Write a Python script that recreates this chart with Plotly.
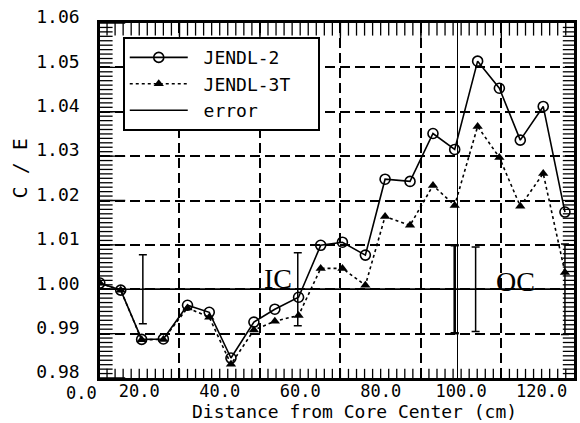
import plotly.graph_objects as go

# Measurement positions: distance from core center (cm)
distance = [10.2, 15.4, 20.6, 26.0, 32.0, 37.4, 42.8, 48.5, 53.7, 59.6, 65.1,
            70.5, 76.2, 81.1, 87.3, 93.0, 98.4, 104.1, 109.5, 114.7, 120.4, 125.8]

# C/E ratios for the two nuclear data libraries
ce_jendl2 = [1.0014, 0.9998, 0.9887, 0.9888, 0.9964, 0.9948, 0.9845, 0.9926, 0.9955, 0.9982, 1.0099,
             1.0106, 1.0077, 1.0248, 1.0243, 1.0351, 1.0315, 1.0514, 1.0453, 1.0336, 1.0412, 1.0174]
ce_jendl3t = [1.0014, 0.9998, 0.9886, 0.9887, 0.9958, 0.9937, 0.9831, 0.9908, 0.9928, 0.9941, 1.0047,
              1.0047, 1.0009, 1.0164, 1.0144, 1.0234, 1.0189, 1.0367, 1.0297, 1.0187, 1.0261, 1.0038]

# Experimental error bands around C/E = 1
err_x = [20.9, 59.4, 98.4, 103.6, 125.8]
err_val = [0.0078, 0.0082, 0.0099, 0.0095, 0.0102]
err_center = [1.0, 1.0, 1.0, 1.0, 1.0]

# Axis ranges, ticks and reference lines
x_range = [10.25, 128.05]
y_range = [0.98, 1.06]
x_ticks = [20, 40, 60, 80, 100, 120]
x_ticktext = ["20.0", "40.0", "60.0", "80.0", "100.0", "120.0"]
x_fine = list(range(12, 128, 2))                      # small tick every 2 cm
x_grid = [30, 50, 70, 90, 110]
y_ticks = [0.98, 0.99, 1.00, 1.01, 1.02, 1.03, 1.04, 1.05, 1.06]
y_ticktext = ["0.98", "0.99", "1.00", "1.01", "1.02", "1.03", "1.04", "1.05", "1.06"]
y_fine = [v / 1000 for v in range(981, 1060)]          # small tick every 0.001
bottom_tick_level = 0.9808                             # centre of the bottom frame ticks
core_boundary = 99.1
region_labels = [("IC", 54.6, 1.0025), ("OC", 113.6, 1.0017)]

MONO = "DejaVu Sans Mono"
DASH = "10px,5px"
NB = "\u00a0"

fig = go.Figure()

fig.add_trace(go.Scatter(
    x=distance, y=ce_jendl2, name=NB + "JENDL-2" + NB * 3, mode="lines+markers",
    line=dict(color="black", width=1.6),
    marker=dict(symbol="circle-open", size=10, color="black", line=dict(width=1.6)),
))
fig.add_trace(go.Scatter(
    x=distance, y=ce_jendl3t, name=NB + "JENDL-3T" + NB * 2, mode="lines+markers",
    line=dict(color="black", width=1.6, dash="dot"),
    marker=dict(symbol="triangle-up", size=9, color="black"),
))
fig.add_trace(go.Scatter(
    x=err_x, y=err_center, name=NB + "error", mode="lines",
    line=dict(color="black", width=1.5),
    error_y=dict(type="data", array=err_val, symmetric=True, color="black", thickness=1.5, width=4),
))
# the error bar at the core boundary is drawn heavier
fig.add_trace(go.Scatter(
    x=[err_x[2]], y=[err_center[2]], mode="markers", showlegend=False, hoverinfo="skip",
    marker=dict(size=1, color="rgba(0,0,0,0)"),
    error_y=dict(type="data", array=[err_val[2]], symmetric=True, color="black", thickness=2.5, width=4),
))

# fine tick marks on the frame (the half outside the plot area is clipped)
def frame_ticks(xs, ys, symbol, size):
    fig.add_trace(go.Scatter(
        x=xs, y=ys, mode="markers", showlegend=False, hoverinfo="skip", cliponaxis=True,
        marker=dict(symbol=symbol, size=size, color="black", line=dict(color="black", width=1.3)),
    ))

frame_ticks(x_fine, [bottom_tick_level] * len(x_fine), "line-ns-open", 8)
frame_ticks(x_fine, [y_range[1]] * len(x_fine), "line-ns-open", 18)
frame_ticks(x_grid, [y_range[1]] * len(x_grid), "line-ns-open", 22)
frame_ticks([x_range[0]] * len(y_fine), y_fine, "line-ew-open", 18)
frame_ticks([x_range[1]] * len(y_fine), y_fine, "line-ew-open", 16)
frame_ticks([x_range[0]] * len(y_ticks), y_ticks, "line-ew-open", 36)

fig.add_shape(type="line", xref="paper", x0=0, x1=1, yref="y", y0=1.0, y1=1.0,
              line=dict(color="black", width=1.5))
fig.add_shape(type="line", xref="x", x0=core_boundary, x1=core_boundary, yref="paper", y0=0, y1=1,
              line=dict(color="black", width=1))

for txt, xv, yv in region_labels:
    fig.add_annotation(x=xv, y=yv, text=txt, showarrow=False,
                       font=dict(family="Liberation Serif", size=28, color="black"))

fig.add_annotation(xref="paper", x=0, yref="paper", y=0, text="0.0", showarrow=False,
                   xanchor="right", yanchor="top", xshift=-1, yshift=-3,
                   font=dict(family=MONO, size=17, color="black"))
fig.add_annotation(xref="paper", x=0.537, yref="paper", y=0, yshift=-33, text="Distance from Core Center (cm)",
                   showarrow=False, xanchor="center", yanchor="middle",
                   font=dict(family=MONO, size=18, color="black"))
fig.add_annotation(xref="paper", x=-0.168, yref="paper", y=0.5915, text="C / E", textangle=-90,
                   showarrow=False, xanchor="center", yanchor="middle",
                   font=dict(family=MONO, size=20, color="black"))

fig.update_layout(
    width=580, height=423,
    margin=dict(l=100, r=3, t=23, b=45),
    plot_bgcolor="white", paper_bgcolor="white",
    font=dict(family=MONO, size=18, color="black"),
    showlegend=True,
    legend=dict(x=0.048, y=0.96, xanchor="left", yanchor="top",
                bgcolor="white", bordercolor="black", borderwidth=2,
                font=dict(family=MONO, size=18, color="black"),
                itemwidth=58, tracegroupgap=0),
    xaxis=dict(
        range=x_range, tickmode="array", tickvals=x_ticks, ticktext=x_ticktext,
        tickfont=dict(family=MONO, size=17, color="black"),
        ticks="", ticklabelstandoff=-4,
        showgrid=False, zeroline=False,
        showline=True, linewidth=2.5, linecolor="black", mirror=True,
        minor=dict(tickmode="array", tickvals=x_grid, showgrid=True, griddash=DASH,
                   gridcolor="black", gridwidth=1.5, ticks=""),
    ),
    yaxis=dict(
        range=y_range, tickmode="array", tickvals=y_ticks, ticktext=y_ticktext,
        ticks="", ticklabelstandoff=14, ticklabelshift=-6,
        showgrid=True, griddash=DASH, gridcolor="black", gridwidth=1.5, zeroline=False,
        showline=True, linewidth=2.5, linecolor="black", mirror=True,
    ),
)

fig.write_html("out.html")
